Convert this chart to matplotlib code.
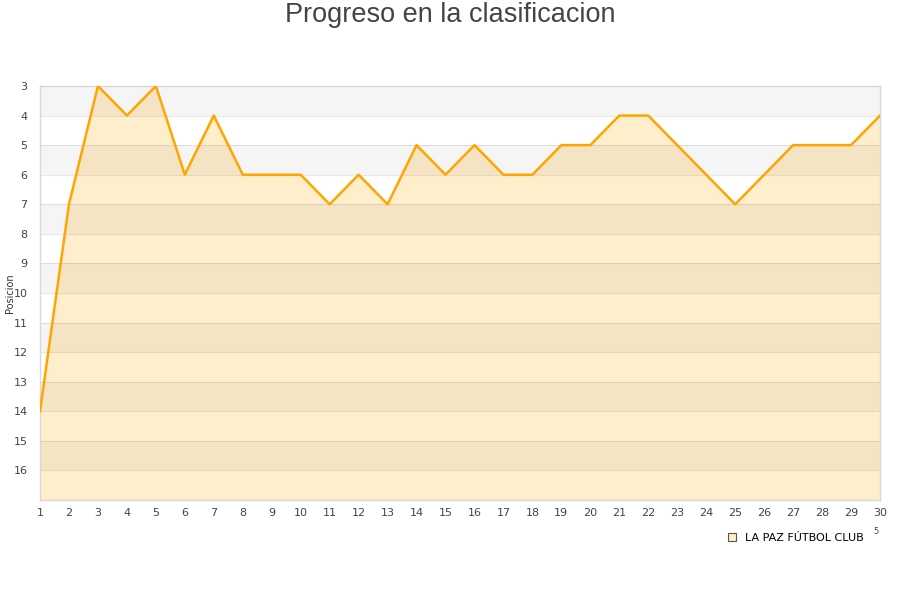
import matplotlib
matplotlib.use("Agg")
import matplotlib.pyplot as plt
from matplotlib.lines import Line2D

# datos de la tabla
jornadas = list(range(1, 31))
posiciones = [14, 7, 3, 4, 3, 6, 4, 6, 6, 6, 7, 6, 7, 5, 6, 5, 6, 6, 5, 5,
              4, 4, 5, 6, 7, 6, 5, 5, 5, 4]
etiquetas_y = list(range(3, 17))
equipo = "LA PAZ FÚTBOL CLUB"

fig = plt.figure(figsize=(9, 6), dpi=100)
ax = fig.add_axes([40/900, 1-500/600, 840/900, 414/600])

y_min, y_max = 3, 17

# relleno bajo la linea
ax.fill_between(jornadas, posiciones, y_max, color="#ffeecc", zorder=1, linewidth=0)

# bandas alternas
for y in range(y_min, y_max, 2):
    ax.axhspan(y, y + 1, color="black", alpha=0.04, linewidth=0, zorder=2)
for y in range(y_min, y_max + 1):
    ax.axhline(y, color="black", alpha=0.09, linewidth=0.8, zorder=2)

ax.plot(jornadas, posiciones, color="#ffa500", linewidth=1.8, zorder=3)

ax.set_xlim(1, 30)
ax.set_ylim(y_max, y_min)
ax.set_xticks(jornadas)
ax.set_yticks(etiquetas_y)
ax.tick_params(length=0, labelsize=8, labelcolor="#444444", pad=6)
ax.tick_params(axis="y", pad=9)
for s in ax.spines.values():
    s.set_color("#d8d8d8")
    s.set_linewidth(1)
ax.set_facecolor("white")

ax.set_ylabel("Posicion", fontsize=7, color="#333333")
ax.yaxis.set_label_coords(-0.0295, 0.5)

fig.text(0.5, 0.975, "Progreso en la clasificacion", ha="center", va="center",
         fontsize=19.5, color="#444444", family="Liberation Sans")

# leyenda
handle = Line2D([], [], linestyle="none", marker="s", markersize=6,
                markerfacecolor="#ffeecc", markeredgecolor="#555555", markeredgewidth=0.8)
fig.legend([handle], [equipo], loc="center", bbox_to_anchor=(795/900, 1-538/600),
           frameon=False, fontsize=8, handletextpad=0.6, handlelength=1.0)
fig.text(876/900, 1-532/600, "5", fontsize=6, color="#444444", ha="center", va="center")

fig.savefig("out.png", dpi=100)
